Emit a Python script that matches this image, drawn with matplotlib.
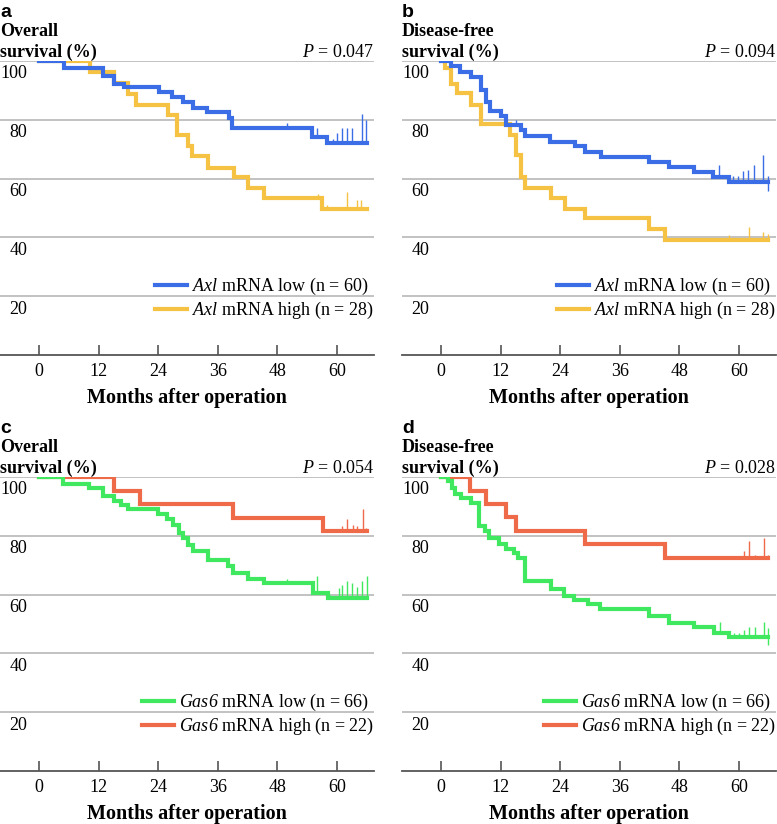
import numpy as np
import matplotlib
matplotlib.use('Agg')
import matplotlib.pyplot as plt
from matplotlib.lines import Line2D
import matplotlib.transforms as mtransforms

plt.rcParams.update({
    'font.family': 'Liberation Serif',
    'font.size': 13,
    'mathtext.fontset': 'custom',
    # mathtext is only used for the italic gene names and P, so rm is italic as well
    'mathtext.rm': 'Liberation Serif:italic',
    'mathtext.it': 'Liberation Serif:italic',
})

BLUE = '#3b6ee6'
YELLOW = '#f5c243'
GREEN = '#3fe85e'
RED = '#ee6a48'

XTICKS = [0, 12, 24, 36, 48, 60]
YTICKS = [20, 40, 60, 80, 100]

# panel a: overall survival by Axl
a_low_t = [0, 4.9, 12.9, 15.0, 17.0, 24.2, 26.8, 29.0, 31.0, 33.9, 38.2, 38.9, 54.9, 57.9, 66.0]
a_low_s = [100, 97.5, 94.9, 92.2, 91.0, 89.6, 87.8, 86.0, 84.1, 82.7, 80.7, 77.3, 74.0, 72.0, 72.0]
a_low_ct = [49.9, 55.9, 59.2, 60.0, 61.0, 62.0, 63.0, 65.0, 65.9]
a_low_ctop = [79.0, 77.3, 73.5, 75.4, 77.3, 77.3, 77.3, 82.0, 80.0]
a_high_t = [0, 10.2, 15.1, 17.9, 19.6, 26.0, 27.8, 30.0, 30.8, 34.0, 39.2, 42.0, 45.2, 57.0, 66.0]
a_high_s = [100, 96.2, 92.6, 88.8, 85.0, 81.6, 74.7, 71.1, 67.8, 63.6, 60.5, 56.9, 53.3, 49.7, 49.7]
a_high_ct = [56.1, 57.9, 62.1, 64.0, 64.9]
a_high_ctop = [54.6, 51.0, 55.4, 52.8, 52.8]

# panel b: disease-free survival by Axl
b_low_t = [0, 1.95, 3.8, 6.0, 8.1, 9.1, 9.9, 12.0, 13.0, 16.0, 16.9, 21.9, 27.0, 29.0, 32.2,
           41.9, 45.9, 50.9, 54.8, 58.0, 65.9]
b_low_s = [100, 98.4, 96.4, 94.7, 90.1, 86.2, 83.0, 81.3, 78.2, 76.5, 74.6, 72.6, 71.2, 69.2, 67.4,
           65.7, 63.8, 62.1, 60.4, 58.7, 58.7]
b_low_ct = [15.0, 56.0, 58.8, 59.8, 60.9, 61.9, 63.0, 64.8, 65.8]
b_low_ctop = [79.9, 64.6, 60.9, 60.9, 62.7, 62.9, 64.6, 68.0, 60.9]
b_low_cbot = [None, None, None, None, None, None, None, None, 55.8]
b_high_t = [0, 0.8, 1.95, 3.1, 6.0, 8.0, 13.8, 15.0, 16.0, 16.9, 22.1, 25.0, 29.0, 41.9, 45.1, 65.9]
b_high_s = [100, 97.5, 92.1, 89.0, 85.2, 78.5, 74.8, 68.0, 60.7, 56.9, 53.3, 49.7, 46.5, 42.9, 39.2, 39.2]
b_high_ct = [57.9, 62.0, 64.9, 65.9]
b_high_ctop = [40.8, 43.6, 41.9, 41.0]

# panel c: overall survival by Gas6
c_low_t = [0, 4.8, 10.0, 12.8, 15.0, 16.5, 17.9, 23.9, 25.8, 27.0, 28.1, 29.0, 30.0, 30.9, 34.0,
           38.1, 39.0, 42.1, 45.2, 55.2, 58.1, 66.0]
c_low_s = [100, 97.7, 96.4, 93.6, 92.0, 90.6, 89.0, 87.5, 85.8, 83.8, 81.0, 79.2, 77.0, 74.9, 71.8,
           69.6, 67.2, 65.3, 63.9, 60.4, 59.0, 59.0]
c_low_ct = [50.0, 56.0, 58.5, 60.3, 61.0, 62.0, 63.0, 64.0, 65.0, 66.0]
c_low_ctop = [65.3, 66.4, 59.8, 62.2, 63.3, 64.5, 63.9, 62.7, 64.5, 66.4]
c_high_t = [0, 15.1, 20.3, 39.1, 57.1, 66.0]
c_high_s = [100, 95.2, 90.7, 86.2, 81.5, 81.5]
c_high_ct = [61.0, 62.1, 63.2, 64.1, 65.2, 65.9]
c_high_ctop = [83.2, 85.7, 83.8, 83.2, 89.1, 82.8]

# panel d: disease-free survival by Gas6
d_low_t = [0, 1.3, 2.15, 2.85, 4.0, 6.0, 7.7, 8.9, 9.7, 11.7, 13.0, 14.7, 15.4, 16.9, 22.1, 24.8,
           26.8, 29.5, 32.0, 41.9, 45.9, 50.9, 54.9, 58.0, 65.9]
d_low_s = [100, 98.5, 96.2, 94.3, 92.8, 91.1, 83.2, 81.5, 79.2, 77.3, 75.5, 74.1, 72.4, 64.5, 61.9, 59.6,
           58.2, 56.9, 55.0, 52.6, 50.5, 48.9, 47.1, 45.7, 45.7]
d_low_ct = [56.1, 58.9, 59.9, 61.0, 62.0, 63.2, 65.0, 65.9]
d_low_ctop = [50.8, 47.1, 47.1, 47.8, 48.9, 48.9, 50.8, 48.6]
d_low_cbot = [None, None, None, None, None, None, None, 42.9]
d_high_t = [0, 5.8, 9.0, 13.0, 15.0, 29.0, 45.1, 65.9]
d_high_s = [100, 95.4, 90.9, 86.4, 81.8, 77.3, 72.4, 72.4]
d_high_ct = [61.0, 62.0, 63.2, 65.0, 65.9]
d_high_ctop = [74.7, 78.4, 73.5, 79.2, 73.5]

panels = [
    dict(letter='a', title='Overall\nsurvival (%)', p='0.047', gene='Axl',
         curves=[(a_high_t, a_high_s, a_high_ct, a_high_ctop, None, YELLOW),
                 (a_low_t, a_low_s, a_low_ct, a_low_ctop, None, BLUE)],
         labels=['low (n = 60)', 'high (n = 28)']),
    dict(letter='b', title='Disease-free\nsurvival (%)', p='0.094', gene='Axl',
         curves=[(b_high_t, b_high_s, b_high_ct, b_high_ctop, None, YELLOW),
                 (b_low_t, b_low_s, b_low_ct, b_low_ctop, b_low_cbot, BLUE)],
         labels=['low (n = 60)', 'high (n = 28)']),
    dict(letter='c', title='Overall\nsurvival (%)', p='0.054', gene='Gas6',
         curves=[(c_high_t, c_high_s, c_high_ct, c_high_ctop, None, RED),
                 (c_low_t, c_low_s, c_low_ct, c_low_ctop, None, GREEN)],
         labels=['low (n = 66)', 'high (n = 22)']),
    dict(letter='d', title='Disease-free\nsurvival (%)', p='0.028', gene='Gas6',
         curves=[(d_high_t, d_high_s, d_high_ct, d_high_ctop, None, RED),
                 (d_low_t, d_low_s, d_low_ct, d_low_ctop, d_low_cbot, GREEN)],
         labels=['low (n = 66)', 'high (n = 22)']),
]

W, H = 777, 824
fig = plt.figure(figsize=(W / 100, H / 100), dpi=100)
# axes boxes in pixels: left, top, right, bottom
boxes = [(0, 61, 374, 355), (402, 61, 776, 355), (0, 477, 374, 771), (402, 477, 776, 771)]


def km(ax, t, s, ct, ctop, cbot, color):
    t = np.asarray(t)
    s = np.asarray(s)
    ax.step(t, s, where='post', color=color, lw=3, solid_joinstyle='miter', zorder=3)
    base = s[np.searchsorted(t, ct, side='right') - 1]
    if cbot is not None:
        base = [b if lo is None else lo for b, lo in zip(base, cbot)]
    ax.vlines(ct, base, ctop, color=color, lw=1, zorder=3)


for pan, (l, tp, r, bt) in zip(panels, boxes):
    ax = fig.add_axes([l / W, 1 - bt / H, (r - l) / W, (bt - tp) / H])
    for t, s, ct, ctop, cbot, col in pan['curves']:
        km(ax, t, s, ct, ctop, cbot, col)
    ax.set_xlim(-7.9, 67.45)
    ax.set_ylim(0, 100)
    for sp in ('top', 'left', 'right'):
        ax.spines[sp].set_visible(False)
    ax.spines['bottom'].set_color('#555555')
    ax.spines['bottom'].set_linewidth(1.3)
    ax.set_xticks(XTICKS)
    ax.tick_params(axis='x', direction='in', length=7, width=1.2, pad=5.5,
                   color='#555555', labelsize=13)
    ax.set_yticks(YTICKS)
    ax.tick_params(axis='y', length=0, labelleft=False)
    ax.grid(axis='y', color='#b8b8b8', lw=1.2)
    ax.set_axisbelow(True)
    trans = mtransforms.blended_transform_factory(ax.transAxes, ax.transData)
    for v in YTICKS:
        ax.text(0.073, v - 4.4, str(v), transform=trans, ha='right', va='center', fontsize=13)
    ax.set_xlabel('Months after operation', fontweight='bold', fontsize=14.5, labelpad=6)

    ax.text(0, 1.15, pan['letter'], transform=ax.transAxes, family='Liberation Sans',
            fontweight='bold', fontsize=14, ha='left', va='baseline')
    ax.text(0, 1.013, pan['title'], transform=ax.transAxes, fontweight='bold', fontsize=13,
            ha='left', va='baseline', linespacing=1.3)
    ax.text(1.0, 1.013, '$P$ = ' + pan['p'], transform=ax.transAxes, ha='right',
            va='baseline', fontsize=13)

    low_col = pan['curves'][1][5]
    high_col = pan['curves'][0][5]
    handles = [Line2D([], [], color=low_col, lw=3), Line2D([], [], color=high_col, lw=3)]
    labels = ['$\\mathit{%s}$ mRNA %s' % (pan['gene'], lb) for lb in pan['labels']]
    ax.legend(handles, labels, loc='lower right', bbox_to_anchor=(1.0, 0.115), frameon=False,
              handlelength=1.75, handletextpad=0.3, labelspacing=0.15, borderaxespad=0,
              borderpad=0, fontsize=13)

fig.savefig('out.png', dpi=100)
